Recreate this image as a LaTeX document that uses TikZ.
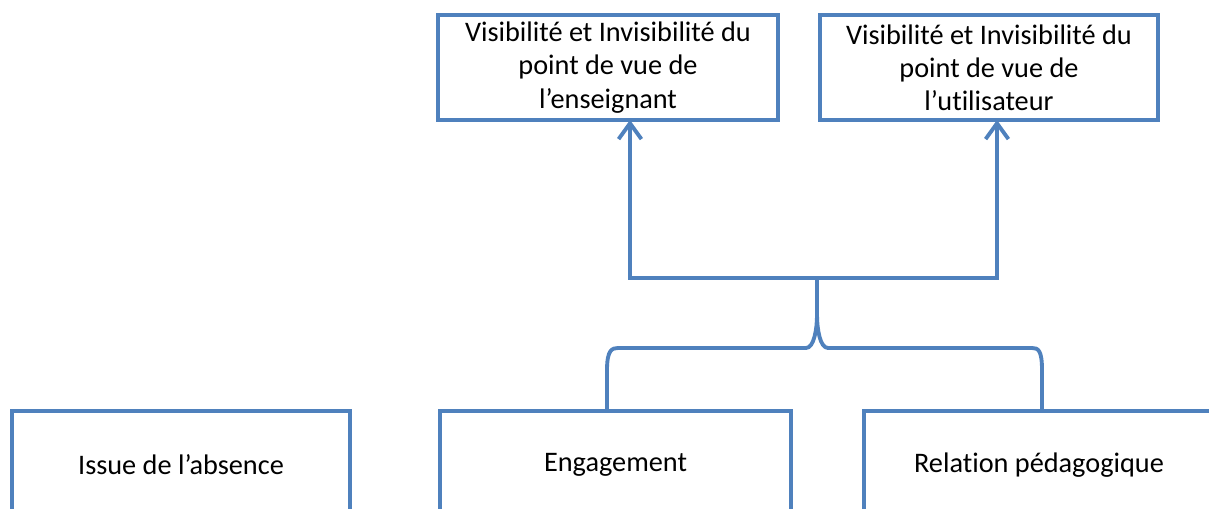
\documentclass[tikz,border=0pt]{standalone}
\usepackage{fontspec}
\setmainfont{Carlito}[Ligatures=NoCommon]
\usetikzlibrary{arrows.meta}
\definecolor{officeblue}{RGB}{79,129,189}

\begin{document}
\begin{tikzpicture}[x=0.02cm, y=-0.02cm,
	box/.style={draw=officeblue, line width=2.2pt, align=center, inner sep=0pt,
		font=\fontsize{16.1}{18.9}\selectfont},
	link/.style={draw=officeblue, line width=2.2pt},
	tip/.style={-{Straight Barb[length=9pt, width=13pt]}}]
	\useasboundingbox (0,0) rectangle (1209,509);
	\clip (0,0) rectangle (1209,509);
	% upper boxes
	\node[box, minimum width=6.8cm, minimum height=2.1cm] (enseignant) at (608,67.5) {Visibilité et Invisibilité du\\point de vue de\\l’enseignant};
	\node[box, minimum width=6.76cm, minimum height=2.1cm] (utilisateur) at (989,67.5) {Visibilité et Invisibilité du\\point de vue de\\l’utilisateur};
	% lower boxes, cut by the frame
	\node[box, minimum width=6.76cm, minimum height=2.16cm] (absence) at (181,465) {Issue de l’absence};
	\node[box, minimum width=7.02cm, minimum height=2.16cm] (engagement) at (615.5,465) {Engagement};
	\node[box, minimum width=7cm, minimum height=2.16cm] (relation) at (1039,465) {Relation pédagogique};
	% fork and brace points
	\coordinate (fork) at (817,278);
	\coordinate (joint) at (817,315);
	\coordinate (ensIn) at (630,120);
	\coordinate (utiIn) at (997,120);
	\coordinate (engOut) at (607,411);
	\coordinate (relOut) at (1042,411);
	\draw[link, tip] (fork) -| (ensIn);
	\draw[link, tip] (fork) -| (utiIn);
	\draw[link] (fork) -- (joint);
	% brace
	\draw[link, line join=round] (engOut) -- ++(0,-41) .. controls ++(0,-20) and ++(-6,0) .. ++(11,-22)
		-- (806,348) .. controls ++(8,0) and ++(0,14) .. (joint);
	\draw[link, line join=round] (relOut) -- ++(0,-41) .. controls ++(0,-20) and ++(6,0) .. ++(-10,-22)
		-- (828,348) .. controls ++(-8,0) and ++(0,14) .. (joint);
\end{tikzpicture}
\end{document}
